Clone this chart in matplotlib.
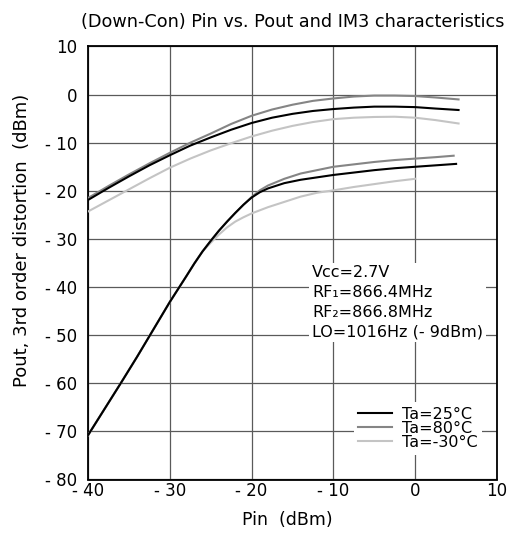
import matplotlib
matplotlib.use("Agg")
import matplotlib.pyplot as plt
from matplotlib.lines import Line2D

plt.rcParams['font.family'] = ['DejaVu Sans']

# Pout curves
pin_pout = [-40, -37.5, -35, -32.5, -30, -27.5, -25, -22.5, -20, -17.5, -15, -12.5,
            -10, -7.5, -5, -2.5, 0, 2.5, 5.3]
pout_25 = [-21.9, -19.4, -17.0, -14.7, -12.6, -10.6, -8.9, -7.3, -5.9, -4.8, -4.0, -3.4,
           -3.0, -2.7, -2.5, -2.5, -2.6, -2.9, -3.2]
pout_80 = [-21.5, -19.0, -16.6, -14.3, -12.1, -10.0, -8.1, -6.1, -4.4, -3.1, -2.1, -1.3,
           -0.8, -0.4, -0.2, -0.2, -0.3, -0.6, -1.0]
pout_m30 = [-24.3, -22.0, -19.7, -17.4, -15.2, -13.3, -11.6, -10.1, -8.7, -7.5, -6.5, -5.7,
            -5.1, -4.8, -4.65, -4.6, -4.8, -5.3, -6.0]

# IM3 curves
pin_im3_25 = [-40, -38, -36, -34, -32, -30, -28, -27, -26, -25, -24, -23, -22, -21, -20,
              -19, -18, -16, -14, -12, -10, -7.5, -5, -2.5, 0, 2.5, 5]
im3_25 = [-70.8, -65.4, -60.0, -54.5, -48.8, -43.1, -37.8, -35.1, -32.6, -30.4, -28.3,
          -26.4, -24.6, -22.9, -21.4, -20.3, -19.5, -18.4, -17.7, -17.2, -16.7, -16.2,
          -15.7, -15.3, -15.0, -14.7, -14.4]
pin_im3_80 = [-40, -38, -36, -34, -32, -30, -28, -27, -26, -25, -24, -23, -22, -21, -20,
              -19, -18, -16, -14, -12, -10, -7.5, -5, -2.5, 0, 2.5, 4.7]
im3_80 = [-70.8, -65.4, -60.0, -54.5, -48.8, -43.1, -37.8, -35.1, -32.6, -30.4, -28.3,
          -26.4, -24.6, -22.9, -21.3, -19.9, -18.9, -17.5, -16.4, -15.7, -15.0, -14.5,
          -14.0, -13.6, -13.3, -13.0, -12.7]
pin_im3_m30 = [-40, -38, -36, -34, -32, -30, -28, -27, -26, -25, -24, -23, -22, -21, -20,
               -18, -16, -14, -12, -10, -7.5, -5, -2.5, 0]
im3_m30 = [-70.8, -65.4, -60.0, -54.5, -48.8, -43.1, -37.8, -35.1, -32.6, -30.8, -29.1,
           -27.6, -26.4, -25.5, -24.7, -23.4, -22.3, -21.2, -20.4, -19.9, -19.2, -18.6,
           -18.0, -17.5]

xticks = [-40, -30, -20, -10, 0, 10]
xticklabels = ['- 40', '- 30', '- 20', '- 10', '0', '10']
yticks = [10, 0, -10, -20, -30, -40, -50, -60, -70, -80]
yticklabels = ['10', '0', '- 10', '- 20', '- 30', '- 40', '- 50', '- 60', '- 70', '- 80']
legend_labels = ['Ta=25°C', 'Ta=80°C', 'Ta=-30°C']
note = 'Vcc=2.7V\nRF\u2081=866.4MHz\nRF\u2082=866.8MHz\nLO=1016Hz (- 9dBm)'

c25, c80, cm30 = '#000000', '#858585', '#c4c4c4'

fig = plt.figure(figsize=(5.13, 5.35), dpi=100)
ax = fig.add_axes([88/513, 1-479.5/535, 409/513, 433/535])

ax.plot(pin_im3_m30, im3_m30, color=cm30, lw=1.5, zorder=3)
ax.plot(pin_im3_80, im3_80, color=c80, lw=1.5, zorder=3)
ax.plot(pin_im3_25, im3_25, color=c25, lw=1.5, zorder=4)
ax.plot(pin_pout, pout_m30, color=cm30, lw=1.5, zorder=3)
ax.plot(pin_pout, pout_80, color=c80, lw=1.5, zorder=3)
ax.plot(pin_pout, pout_25, color=c25, lw=1.5, zorder=4)

ax.set_xlim(-40, 10)
ax.set_ylim(-80, 10)
ax.set_xticks(xticks)
ax.set_xticklabels(xticklabels)
ax.set_yticks(yticks)
ax.set_yticklabels(yticklabels)
ax.tick_params(length=0, labelsize=12, colors='#000000')
ax.tick_params(axis='x', pad=1.5)
ax.tick_params(axis='y', pad=8)
ax.grid(True, color='#5a5a5a', lw=0.9, zorder=1)
for s in ax.spines.values():
    s.set_linewidth(1.3)
    s.set_color('#000000')

ax.set_title('(Down-Con) Pin vs. Pout and IM3 characteristics', fontsize=12.7, pad=14)
ax.set_xlabel('Pin  (dBm)', fontsize=12.5)
ax.set_ylabel('Pout, 3rd order distortion  (dBm)', fontsize=13)
ax.xaxis.set_label_coords((287 - 88) / 409, (479.5 - 511) / 433)
ax.yaxis.set_label_coords((31 - 88) / 409, 1 - (240 - 46.5) / 433)

ax.text(-12.6, -35.5, note,
        fontsize=11.5, va='top', ha='left', linespacing=1.38, zorder=5,
        bbox=dict(facecolor='white', edgecolor='none', pad=2))

handles = [Line2D([], [], color=c25, lw=1.5),
           Line2D([], [], color=c80, lw=1.5),
           Line2D([], [], color=cm30, lw=1.5)]
leg = ax.legend(handles, legend_labels, loc='upper left',
                bbox_to_anchor=(0.630, 0.198), fontsize=11.5, frameon=True,
                facecolor='white', edgecolor='none', framealpha=1, fancybox=False,
                handlelength=2.1, handletextpad=0.6, labelspacing=-0.05,
                borderpad=0.3)
leg.set_zorder(5)

fig.savefig('out.png', dpi=100)
